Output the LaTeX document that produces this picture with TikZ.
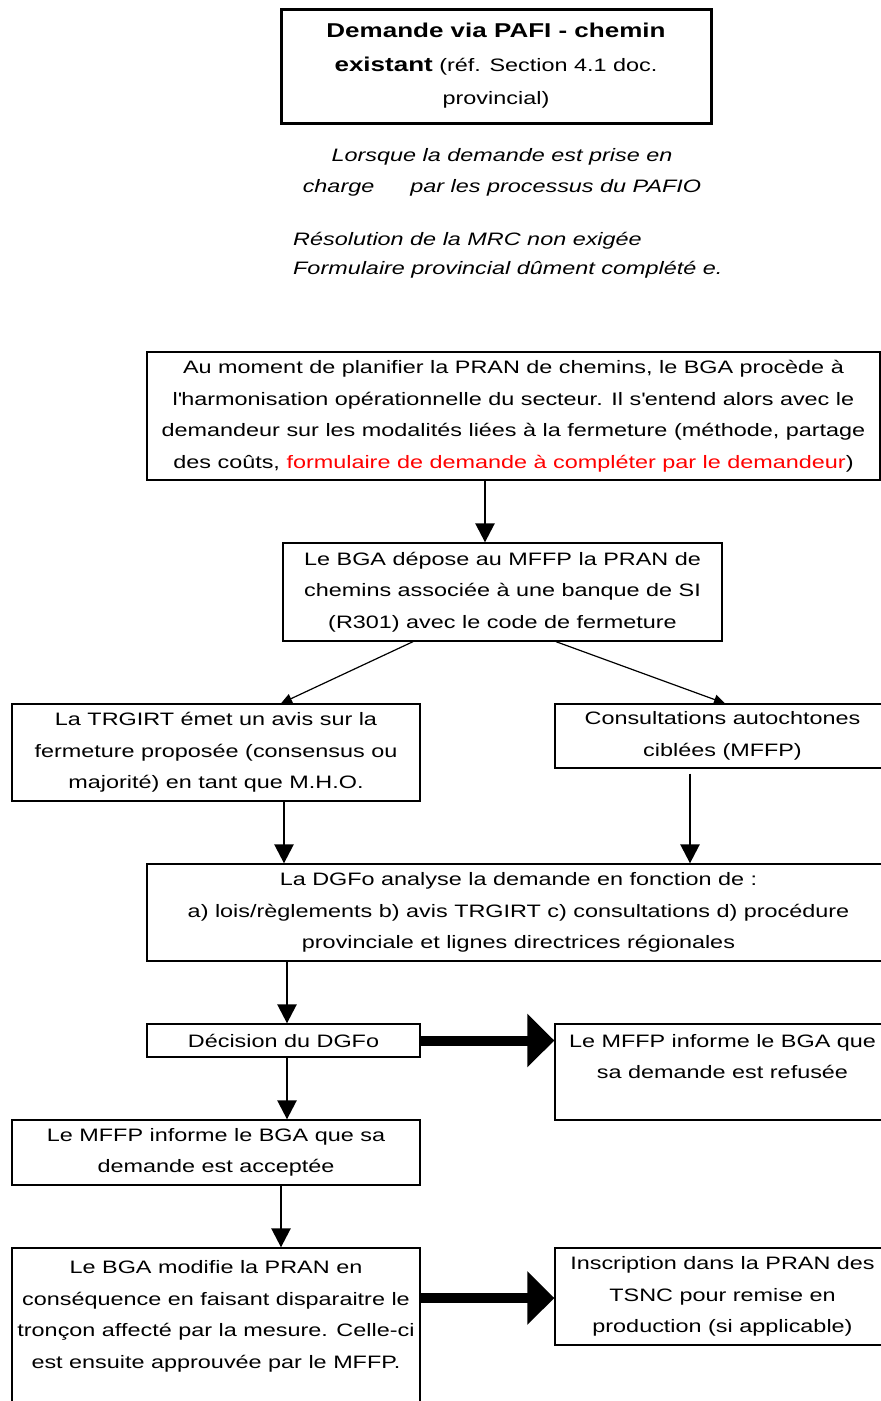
\documentclass[tikz,border=0pt]{standalone}
\usepackage{fontspec}
\setmainfont{Liberation Sans}[FakeStretch=1.3]
\usetikzlibrary{arrows.meta}
\newcommand{\bodyfont}{\fontsize{18}{31.5}\selectfont}
\begin{document}
\begin{tikzpicture}[x=1pt,y=-1pt,
  box/.style={draw=black, line width=1.3pt, inner sep=0pt, align=center, font=\bodyfont},
  note/.style={inner sep=0pt, font=\fontsize{18}{31}\selectfont\itshape},
  thinarrow/.style={line width=1.2pt, -{Triangle[length=11pt,width=10pt]}},
  downarrow/.style={line width=2.5pt, -{Triangle[length=19pt,width=19pt]}},
  bigarrow/.style={line width=10pt, -{Triangle[length=27pt,width=52pt]}}]
\useasboundingbox (0,0) rectangle (881,1401);
\clip (0,0) rectangle (881,1401);
\fill[white] (0,0) rectangle (881,1401);

% title
\node[box, line width=3pt, minimum width=430pt, minimum height=114pt,
  font=\fontsize{18}{33.5}\selectfont] (title) at (496,66)
  {{\fontsize{20}{33.5}\selectfont\bfseries Demande via PAFI - chemin}\\
   {\fontsize{20}{33.5}\selectfont\bfseries existant} (réf. Section 4.1 doc.\\
   provincial)};

\node[note, align=center] (lorsque) at (502,172.5)
  {Lorsque la demande est prise en\\charge\hspace{36pt}par les processus du PAFIO};
\node[note, align=left, anchor=west, font=\fontsize{18}{29}\selectfont\itshape] (resol) at (293,255.5)
  {Résolution de la MRC non exigée\\Formulaire provincial dûment complété e.};

% boxes
\node[box, minimum width=733pt, minimum height=128pt] (plan) at (513.5,416)
  {Au moment de planifier la PRAN de chemins, le BGA procède à\\
   l\textquotesingle harmonisation opérationnelle du secteur. Il s\textquotesingle entend alors avec le\\
   demandeur sur les modalités liées à la fermeture (méthode, partage\\
   des coûts, {\color{red}formulaire de demande à compléter par le demandeur})};
\node[box, minimum width=439pt, minimum height=98pt] (depot) at (502.5,592)
  {Le BGA dépose au MFFP la PRAN de\\chemins associée à une banque de SI\\(R301) avec le code de fermeture};
\node[box, minimum width=408pt, minimum height=97pt] (trgirt) at (216,752.5)
  {La TRGIRT émet un avis sur la\\fermeture proposée (consensus ou\\majorité) en tant que M.H.O.};
\node[box, minimum width=335pt, minimum height=64pt] (consult) at (722.5,736)
  {Consultations autochtones\\ciblées (MFFP)};
\node[box, minimum width=743pt, minimum height=97pt] (dgfo) at (518.5,912.5)
  {La DGFo analyse la demande en fonction de :\\a) lois/règlements b) avis TRGIRT c) consultations d) procédure\\provinciale et lignes directrices régionales};
\node[box, minimum width=273pt, minimum height=33pt] (decision) at (283.5,1040.5)
  {Décision du DGFo};
\node[box, minimum width=335pt, minimum height=96pt] (refus) at (722.5,1072)
  {Le MFFP informe le BGA que\\sa demande est refusée\\ \mbox{}};
\node[box, minimum width=408pt, minimum height=65pt] (accept) at (216,1152.5)
  {Le MFFP informe le BGA que sa\\demande est acceptée};
\node[box, minimum width=408pt, minimum height=196pt] (modif) at (216,1346)
  {Le BGA modifie la PRAN en\\conséquence en faisant disparaitre le\\tronçon affecté par la mesure. Celle-ci\\est ensuite approuvée par le MFFP.\\ \mbox{}\\ \mbox{}};
\node[box, minimum width=335pt, minimum height=97pt] (inscr) at (722.5,1296.5)
  {Inscription dans la PRAN des\\TSNC pour remise en\\production (si applicable)};

% helper coordinates
\coordinate (xA) at (485,0);
\coordinate (xB) at (413,0);
\coordinate (xC) at (281,0);
\coordinate (xD) at (556,0);
\coordinate (xE) at (725,0);
\coordinate (xF) at (284,0);
\coordinate (xG) at (690,0);
\coordinate (xH) at (287,0);
\coordinate (xI) at (281,0);
\coordinate (yJ) at (0,1298);

% connectors
\draw[downarrow] (plan.south -| xA) -- (depot.north -| xA);
\draw[thinarrow] (depot.south -| xB) -- (trgirt.north -| xC);
\draw[thinarrow] (depot.south -| xD) -- (consult.north -| xE);
\draw[downarrow] (trgirt.south -| xF) -- (dgfo.north -| xF);
\draw[downarrow, shorten <=5pt] (consult.south -| xG) -- (dgfo.north -| xG);
\draw[downarrow] (dgfo.south -| xH) -- (decision.north -| xH);
\draw[bigarrow] (decision.east) -- (refus.west |- decision.east);
\draw[downarrow] (decision.south -| xH) -- (accept.north -| xH);
\draw[downarrow] (accept.south -| xI) -- (modif.north -| xI);
\draw[bigarrow] (modif.east |- yJ) -- (inscr.west |- yJ);
\end{tikzpicture}
\end{document}
